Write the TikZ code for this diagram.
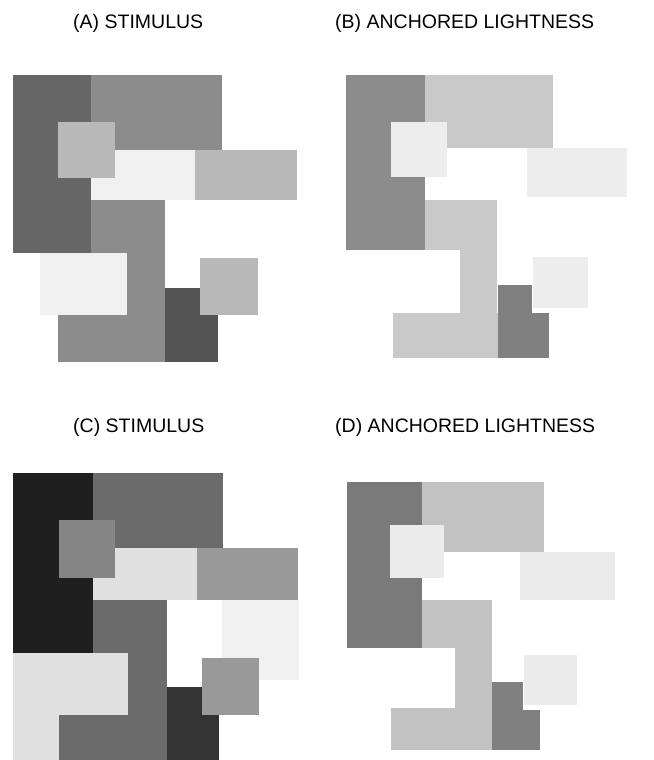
\documentclass[tikz,border=0pt]{standalone}
\usepackage{fontspec}
\setmainfont{Liberation Sans}
\definecolor{aDark}{gray}{0.40}
\definecolor{aMed}{gray}{0.55}
\definecolor{aLight}{gray}{0.72}
\definecolor{aWhite}{gray}{0.94}
\definecolor{aDarkest}{gray}{0.33}
\definecolor{bDark}{gray}{0.55}
\definecolor{bLight}{gray}{0.79}
\definecolor{bWhite}{gray}{0.93}
\definecolor{bDarkest}{gray}{0.50}
\definecolor{cBlack}{gray}{0.12}
\definecolor{cMed}{gray}{0.42}
\definecolor{cMid}{gray}{0.52}
\definecolor{cLight}{gray}{0.88}
\definecolor{cRight}{gray}{0.60}
\definecolor{cFaint}{gray}{0.94}
\definecolor{cDark}{gray}{0.20}
\definecolor{dDark}{gray}{0.48}
\definecolor{dLight}{gray}{0.76}
\definecolor{dWhite}{gray}{0.92}
\definecolor{dDarkest}{gray}{0.50}
\begin{document}
\begin{tikzpicture}[x=1pt,y=-1pt,
  title/.style={anchor=base west, inner sep=0pt, font=\fontsize{19.5}{22}\selectfont},
  patch/.style={fill=#1, draw=none}]
\useasboundingbox (0,0) rectangle (653,760);
\fill[white] (0,0) rectangle (653,760);

% titles
\node[title] (ta) at (73,29) {(A) STIMULUS};
\node[title] (tb) at (335,29) {(B) ANCHORED LIGHTNESS};
\node[title] (tc) at (73,432) {(C) STIMULUS};
\node[title] (td) at (335,432) {(D) ANCHORED LIGHTNESS};

% ---------- Panel A ----------
\fill[patch=aDark] (13,75) rectangle (91,253);
\fill[patch=aMed] (91,75) rectangle (222,150);
\fill[patch=aWhite] (91,150) rectangle (195,200);
\fill[patch=aLight] (58,122) rectangle (115,178);
\fill[patch=aLight] (195,150) rectangle (297,200);
\fill[patch=aMed] (91,200) rectangle (165,253);
\fill[patch=aMed] (127,253) rectangle (165,315);
\fill[patch=aWhite] (40,253) rectangle (127,315);
\fill[patch=aLight] (200,258) rectangle (258,315);
\fill[patch=aMed] (58,315) rectangle (165,362);
\fill[patch=aDarkest] (165,288) rectangle (200,362);
\fill[patch=aDarkest] (165,315) rectangle (218,362);

% ---------- Panel B ----------
\fill[patch=bDark] (346,75) rectangle (425,250);
\fill[patch=bLight] (425,75) rectangle (553,148);
\fill[patch=bWhite] (391,122) rectangle (447,177);
\fill[patch=bWhite] (527,148) rectangle (627,197);
\fill[patch=bLight] (425,200) rectangle (497,250);
\fill[patch=bLight] (460,250) rectangle (497,313);
\fill[patch=bWhite] (533,257) rectangle (588,308);
\fill[patch=bLight] (393,313) rectangle (498,358);
\fill[patch=bDarkest] (498,285) rectangle (532,358);
\fill[patch=bDarkest] (498,313) rectangle (549,358);

% ---------- Panel C ----------
\fill[patch=cBlack] (13,473) rectangle (93,653);
\fill[patch=cMed] (93,473) rectangle (223,548);
\fill[patch=cLight] (93,548) rectangle (197,600);
\fill[patch=cMid] (59,520) rectangle (115,578);
\fill[patch=cRight] (197,548) rectangle (298,600);
\fill[patch=cFaint] (222,600) rectangle (299,680);
\fill[patch=cMed] (93,600) rectangle (167,653);
\fill[patch=cMed] (128,653) rectangle (167,760);
\fill[patch=cLight] (13,653) rectangle (128,760);
\fill[patch=cRight] (202,658) rectangle (259,715);
\fill[patch=cMed] (59,715) rectangle (167,760);
\fill[patch=cDark] (167,687) rectangle (202,760);
\fill[patch=cDark] (167,715) rectangle (219,760);

% ---------- Panel D ----------
\fill[patch=dDark] (347,482) rectangle (422,648);
\fill[patch=dLight] (422,482) rectangle (544,552);
\fill[patch=dWhite] (390,525) rectangle (444,578);
\fill[patch=dWhite] (520,552) rectangle (615,600);
\fill[patch=dLight] (422,600) rectangle (492,648);
\fill[patch=dLight] (455,648) rectangle (492,710);
\fill[patch=dWhite] (524,655) rectangle (577,705);
\fill[patch=dLight] (391,708) rectangle (492,750);
\fill[patch=dDarkest] (492,682) rectangle (523,750);
\fill[patch=dDarkest] (492,710) rectangle (540,750);
\end{tikzpicture}
\end{document}
